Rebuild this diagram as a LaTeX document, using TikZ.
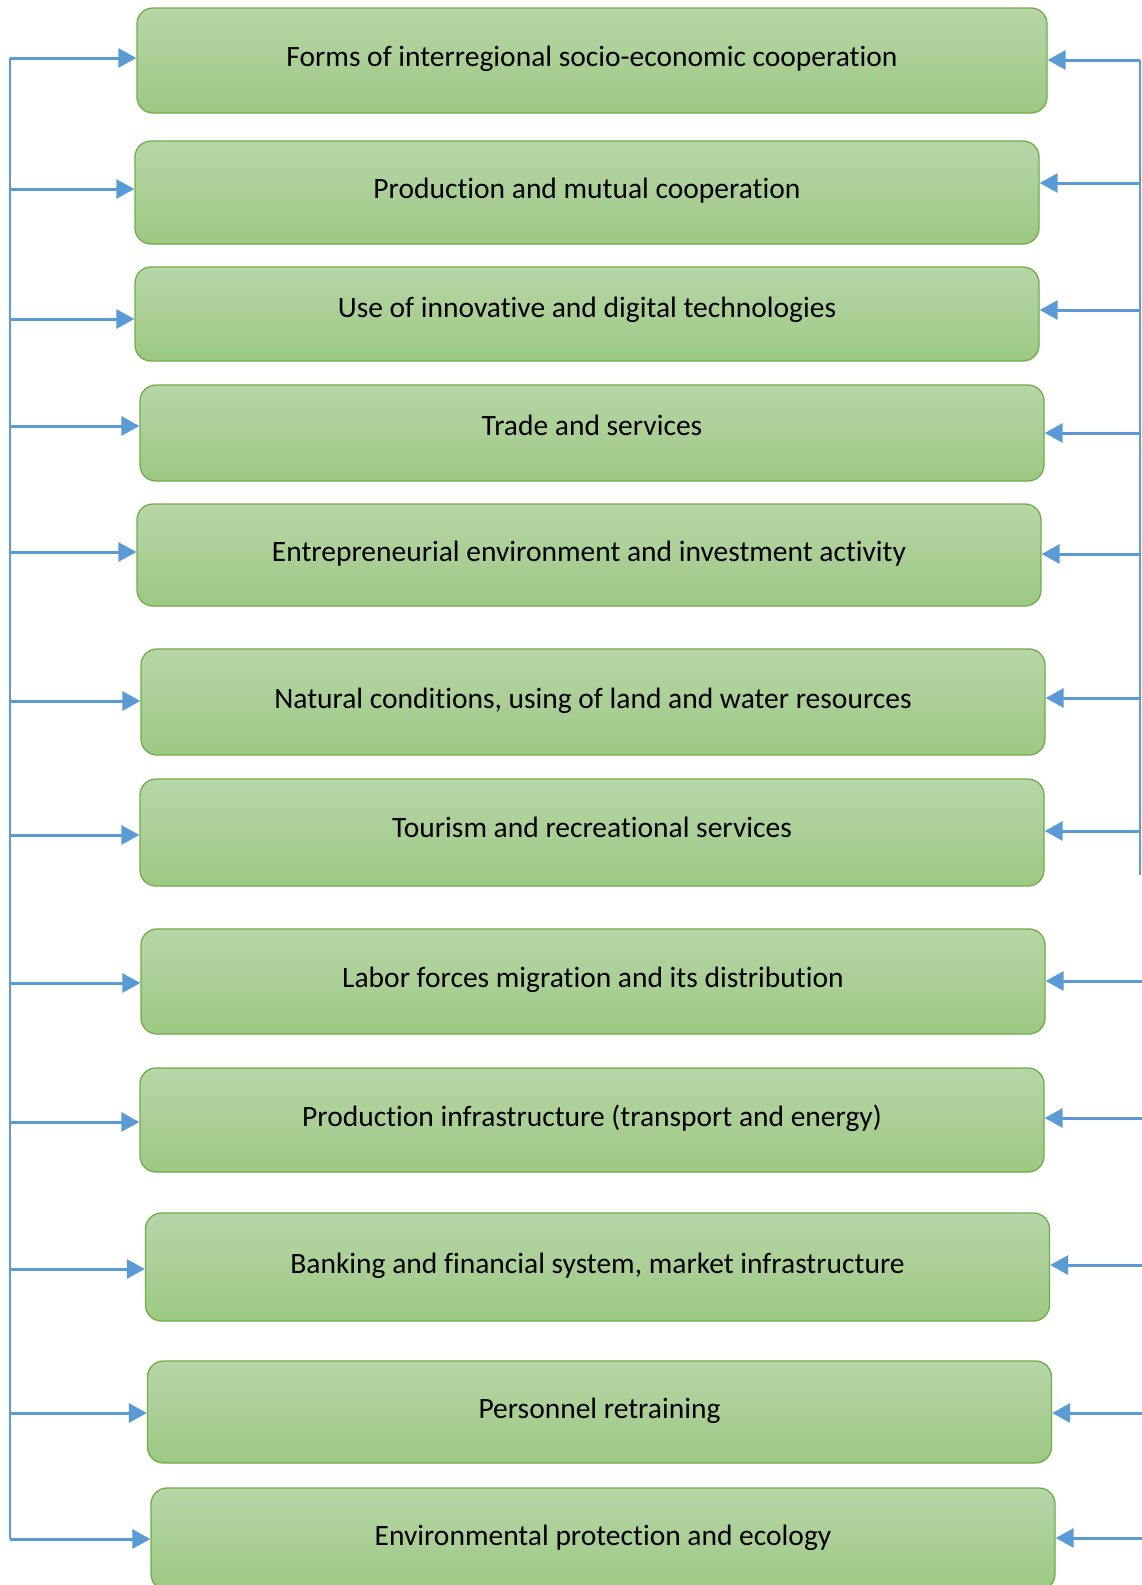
\documentclass[tikz,border=0pt]{standalone}
\usepackage{fontspec}
\setmainfont{Carlito}[Ligatures=NoCommon]
\usepackage{xcolor}
\definecolor{boxtop}{RGB}{183,214,168}
\definecolor{boxbottom}{RGB}{157,201,131}
\definecolor{boxedge}{RGB}{112,173,71}
\definecolor{arrblue}{RGB}{91,155,213}
\usetikzlibrary{arrows.meta}

\begin{document}
\begin{tikzpicture}[x=1pt, y=-1pt,
  factor/.style={draw=boxedge, line width=1.3pt, rounded corners=16pt,
    top color=boxtop, bottom color=boxbottom, minimum width=904pt,
    font=\fontsize{29.5}{34}\selectfont, text=black, inner sep=0pt,
    text height=21pt, text depth=9pt},
  feed/.style={arrblue, line width=3pt, -{Triangle[length=18pt,width=19pt]}},
  rail/.style={arrblue, line width=1.6pt}]
\useasboundingbox (0,0) rectangle (1142,1585);
\clip (0,0) rectangle (1142,1585);

% --- Factor boxes ---
\node[factor, minimum width=910pt, minimum height=105pt] (forms) at (592,60.5) {Forms of interregional socio-economic cooperation};
\node[factor, minimum height=103pt] (prod) at (587,192.5) {Production and mutual cooperation};
\node[factor, minimum height=94pt, text depth=15pt] (innov) at (587,314) {Use of innovative and digital technologies};
\node[factor, minimum height=96pt, text depth=17pt] (trade) at (592,433) {Trade and services};
\node[factor, minimum height=102pt] (entre) at (589,555) {Entrepreneurial environment and investment activity};
\node[factor, minimum height=106pt] (nature) at (593,702) {Natural conditions, using of land and water resources};
\node[factor, minimum height=107pt, text depth=12pt] (tour) at (592,832.5) {Tourism and recreational services};
\node[factor, minimum height=105pt] (labor) at (593,981.5) {Labor forces migration and its distribution};
\node[factor, minimum height=104pt] (infra) at (592,1120) {Production infrastructure (transport and energy)};
\node[factor, minimum height=108pt] (bank) at (597.5,1267) {Banking and financial system, market infrastructure};
\node[factor, minimum height=102pt] (retrain) at (599.5,1412) {Personnel retraining};
\node[factor, minimum height=102pt] (ecol) at (603,1539) {Environmental protection and ecology};

% --- Left rail ---
\coordinate (l1) at (10,58);
\coordinate (l2) at (10,189);
\coordinate (l3) at (10,319);
\coordinate (l4) at (10,426);
\coordinate (l5) at (10,552);
\coordinate (l6) at (10,701);
\coordinate (l7) at (10,835);
\coordinate (l8) at (10,983);
\coordinate (l9) at (10,1122);
\coordinate (l10) at (10,1269);
\coordinate (l11) at (10,1413);
\coordinate (l12) at (10,1539);
\draw[rail] (l1) -- (l12);

\draw[feed] (l1) -- (l1 -| forms.west);
\draw[feed] (l2) -- (l2 -| prod.west);
\draw[feed] (l3) -- (l3 -| innov.west);
\draw[feed] (l4) -- (l4 -| trade.west);
\draw[feed] (l5) -- (l5 -| entre.west);
\draw[feed] (l6) -- (l6 -| nature.west);
\draw[feed] (l7) -- (l7 -| tour.west);
\draw[feed] (l8) -- (l8 -| labor.west);
\draw[feed] (l9) -- (l9 -| infra.west);
\draw[feed] (l10) -- (l10 -| bank.west);
\draw[feed] (l11) -- (l11 -| retrain.west);
\draw[feed] (l12) -- (l12 -| ecol.west);

% --- Right rail ---
\coordinate (r1) at (1140,60);
\coordinate (r2) at (1140,183);
\coordinate (r3) at (1140,310);
\coordinate (r4) at (1140,433);
\coordinate (r5) at (1140,554);
\coordinate (r6) at (1140,698);
\coordinate (r7) at (1140,831);
\coordinate (r8) at (1142,981);
\coordinate (r9) at (1142,1118);
\coordinate (r10) at (1142,1265);
\coordinate (r11) at (1142,1413);
\coordinate (r12) at (1142,1538);
\coordinate (rend) at (1140,875);
\draw[rail] (r1) -- (rend);

\draw[feed] (r1) -- (r1 -| forms.east);
\draw[feed] (r2) -- (r2 -| prod.east);
\draw[feed] (r3) -- (r3 -| innov.east);
\draw[feed] (r4) -- (r4 -| trade.east);
\draw[feed] (r5) -- (r5 -| entre.east);
\draw[feed] (r6) -- (r6 -| nature.east);
\draw[feed] (r7) -- (r7 -| tour.east);
\draw[feed] (r8) -- (r8 -| labor.east);
\draw[feed] (r9) -- (r9 -| infra.east);
\draw[feed] (r10) -- (r10 -| bank.east);
\draw[feed] (r11) -- (r11 -| retrain.east);
\draw[feed] (r12) -- (r12 -| ecol.east);

\end{tikzpicture}
\end{document}
